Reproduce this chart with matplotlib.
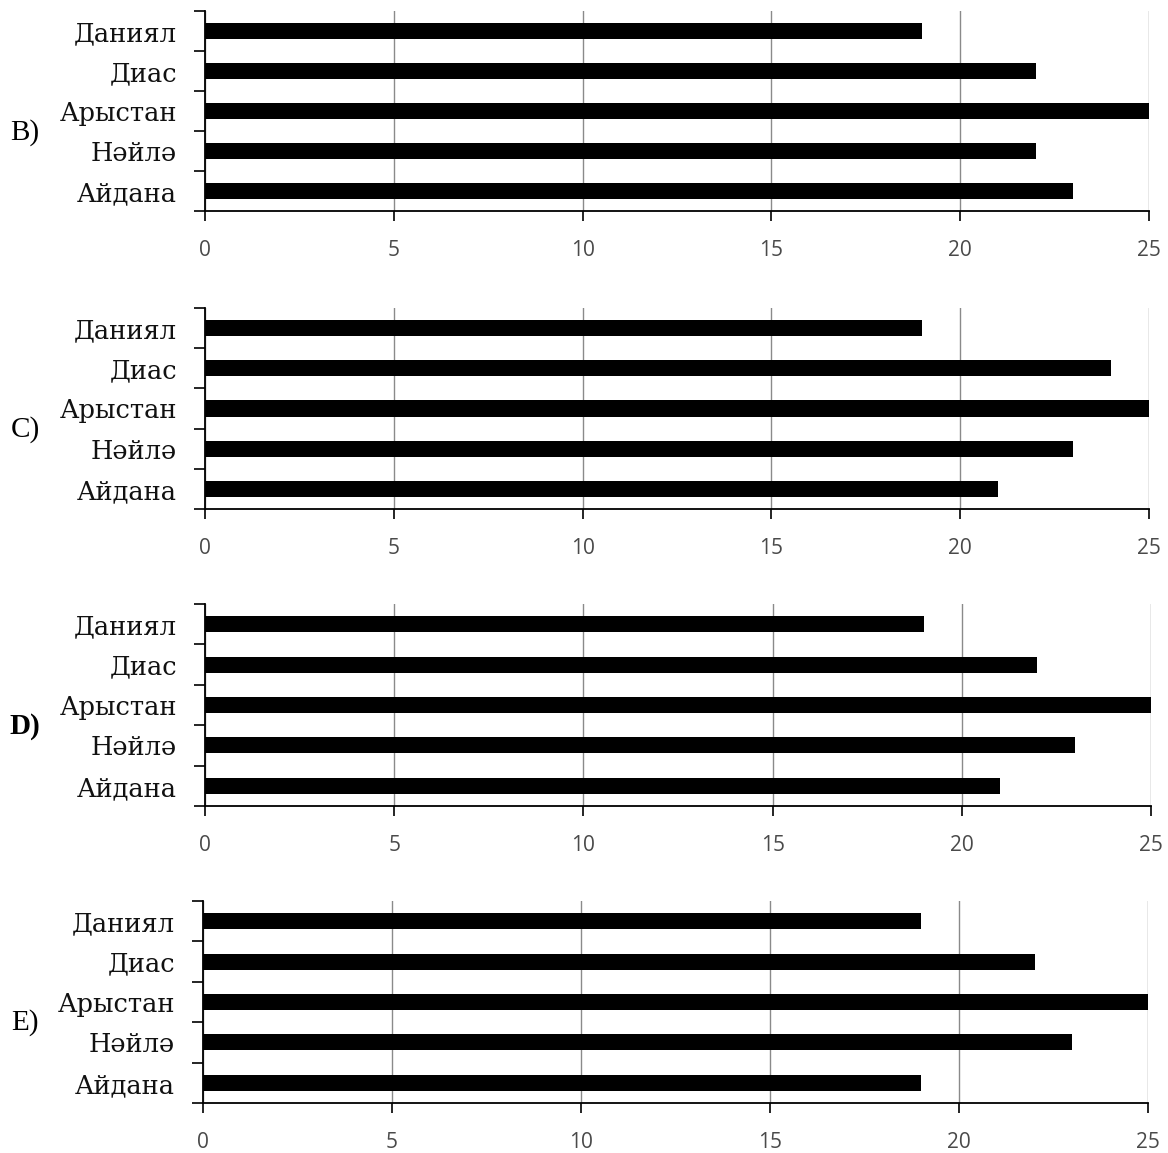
import matplotlib
matplotlib.use("Agg")
import matplotlib.pyplot as plt
import numpy as np

names = ["Айдана", "Нәйлә", "Арыстан", "Диас", "Даниял"]
values_B = [23, 22, 25, 22, 19]
values_C = [21, 23, 25, 24, 19]
values_D = [21, 23, 25, 22, 19]
values_E = [19, 23, 25, 22, 19]
panel_labels = ["B)", "C)", "D)", "E)"]
panel_bold = [False, False, True, False]
x_ticks = [0, 5, 10, 15, 20, 25]

W, H = 1168, 1153
fig = plt.figure(figsize=(W / 100, H / 100), dpi=100)

# pixel boxes: (left, right, top, bottom)
boxes = [(205, 1149, 11, 211), (205, 1149, 308, 509), (205, 1151, 604, 806), (203, 1148, 901, 1103)]
label_y = [133, 430, 727, 1023]

for vals, box, lab, bold, ly in zip([values_B, values_C, values_D, values_E], boxes,
                                    panel_labels, panel_bold, label_y):
    l, r, t, b = box
    ax = fig.add_axes([l / W, 1 - b / H, (r - l) / W, (b - t) / H])
    y = np.arange(len(names))
    ax.barh(y, vals, height=0.4, color="black", zorder=3)
    ax.set_xlim(0, 25)
    ax.set_ylim(-0.5, len(names) - 0.5)
    for s in ["top", "right"]:
        ax.spines[s].set_visible(False)
    ax.spines["left"].set_linewidth(1.3)
    ax.spines["bottom"].set_linewidth(1.3)
    ax.spines["left"].set_zorder(4)
    ax.spines["bottom"].set_zorder(4)
    ax.set_xticks(x_ticks)
    ax.set_xticklabels([str(v) for v in x_ticks], fontsize=15, family="Open Sans", color="#4a4a4a")
    ax.tick_params(axis="x", length=7, width=1.2, direction="out", pad=14)
    ax.xaxis.grid(True, color="#8a8a8a", linewidth=1.0, zorder=0)
    ax.set_yticks(np.arange(-0.5, len(names), 1.0))
    ax.set_yticklabels([])
    ax.tick_params(axis="y", which="major", length=8, width=1.2, direction="out")
    ax.set_yticks(y, minor=True)
    ax.set_yticklabels(names, minor=True, fontsize=18.5, family="DejaVu Serif", color="#111111")
    ax.tick_params(axis="y", which="minor", length=0, pad=20)
    fig.text(25 / W, 1 - ly / H, lab, ha="center", va="center", fontsize=21,
             family="Liberation Serif", fontweight="bold" if bold else "normal")

fig.savefig("out.png", dpi=100, facecolor="white")
